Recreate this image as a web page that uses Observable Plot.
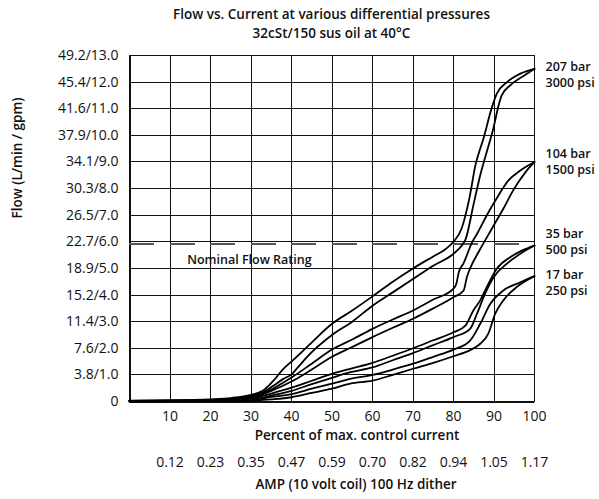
<!DOCTYPE html>
<html>
<head>
<meta charset="utf-8">
<script src="https://cdn.jsdelivr.net/npm/d3@7"></script>
<script src="https://cdn.jsdelivr.net/npm/@observablehq/plot@0.6"></script>
<style>
  body { margin: 0; background: #fff; font-family: "Open Sans", "Noto Sans", sans-serif; }
  #wrap { position: relative; width: 599px; height: 499px; }
  #title { position: absolute; left: 0; width: 663px; top: 5px; text-align: center;
           font-family: "Open Sans", "Noto Sans", sans-serif;
           font-size: 13.5px; font-weight: 600; line-height: 19px; color: #111; }
  svg { position: absolute; left: 0; top: 0; }
</style>
</head>
<body>
<div id="wrap">
  <div id="title">Flow vs. Current at various differential pressures<br>32cSt/150 sus oil at 40°C</div>
</div>
<script>
// ---- data (x = % of max control current, y = flow in gpm) ----
const xTicks = [10, 20, 30, 40, 50, 60, 70, 80, 90, 100];
const ampLabels = ["0.12","0.23","0.35","0.47","0.59","0.70","0.82","0.94","1.05","1.17"];
const yTicks = [0,1,2,3,4,5,6,7,8,9,10,11,12,13];
const yTickLabels = ["0","3.8/1.0","7.6/2.0","11.4/3.0","15.2/4.0","18.9/5.0","22.7/6.0","26.5/7.0","30.3/8.0","34.1/9.0","37.9/10.0","41.6/11.0","45.4/12.0","49.2/13.0"];

const p207a = [[0,0.03],[10,0.04],[20,0.08],[25,0.13],[30,0.25],[33,0.41],[35.6,0.79],[38,1.23],[40,1.5],[43.8,2.04],[50,2.92],[55,3.42],[60,3.95],[65,4.5],[70,5.0],[75,5.45],[78,5.72],[80,6.0],[82,6.5],[84,7.7],[85.4,8.87],[87.4,9.88],[89.5,11.06],[90.7,11.57],[93.2,12.0],[96.5,12.32],[100,12.5]];
const p207b = [[0,0.02],[10,0.03],[20,0.06],[25,0.1],[30,0.2],[33,0.35],[35.6,0.6],[38,0.85],[40,1.02],[41.5,1.27],[43.8,1.67],[50,2.5],[55,3.0],[60,3.6],[65,4.1],[70,4.6],[75,5.1],[80,5.55],[82,5.85],[83,6.1],[84.9,7.37],[86.6,8.5],[88.2,9.37],[89.9,10.3],[91.1,11.1],[91.9,11.5],[94,11.88],[97.3,12.23],[100,12.5]];
const p104a = [[0,0.02],[20,0.05],[30,0.18],[35,0.45],[40,0.9],[45,1.42],[50,1.95],[55,2.33],[60,2.73],[65,3.08],[70,3.42],[75,3.83],[80,4.24],[80.7,4.42],[81.3,4.86],[82.5,5.2],[84.5,5.95],[86,6.35],[88.2,6.99],[91.1,7.74],[93.2,8.24],[96.5,8.68],[100,9.0]];
const p104b = [[0,0.02],[20,0.04],[30,0.15],[35,0.4],[40,0.75],[45,1.2],[50,1.68],[55,2.05],[60,2.42],[65,2.77],[70,3.11],[75,3.5],[80,3.92],[82.5,4.17],[83.3,4.67],[84.1,5.0],[86.5,5.7],[89.5,6.5],[92.3,7.24],[94.8,7.95],[97.7,8.6],[100,9.0]];
const p35a = [[0,0.02],[25,0.04],[30,0.1],[35,0.3],[40,0.52],[45,0.78],[50,1.04],[54.5,1.23],[60,1.45],[65,1.72],[70,2.0],[75,2.3],[80,2.6],[83,2.86],[84.9,3.42],[86.6,3.8],[88.2,4.3],[90.7,4.99],[94,5.42],[97,5.68],[100,5.86]];
const p35b = [[0,0.01],[27,0.02],[30,0.06],[35,0.22],[40,0.4],[45,0.65],[50,0.89],[54.5,1.1],[60,1.28],[65,1.55],[70,1.82],[75,2.12],[80,2.42],[84.1,2.73],[85.8,3.3],[87.8,4.05],[89.9,4.67],[93.2,5.18],[96.5,5.55],[100,5.86]];
const p17a = [[0,0.01],[25,0.02],[30,0.06],[35,0.17],[40,0.28],[45,0.48],[50,0.67],[54.5,0.85],[60,1.0],[65,1.2],[70,1.42],[75,1.68],[80,1.95],[84.1,2.29],[86.6,2.92],[89.1,3.67],[92.3,4.17],[96.5,4.48],[100,4.71]];
const p17b = [[0,0.01],[27,0.01],[30,0.03],[35,0.08],[40,0.16],[45,0.32],[50,0.48],[54.5,0.67],[60,0.78],[65,1.0],[70,1.23],[75,1.45],[80,1.7],[84,1.92],[86.6,2.17],[88.6,2.55],[90.3,3.3],[92.3,3.8],[95.6,4.3],[100,4.71]];

const seriesNames = ["207a","207b","104a","104b","35a","35b","17a","17b"];
const seriesData = [p207a,p207b,p104a,p104b,p35a,p35b,p17a,p17b];

const barLabels = ["207 bar","104 bar","35 bar","17 bar"];
const psiLabels = ["3000 psi","1500 psi","500 psi","250 psi"];
const pressureLabelY = [12.25, 8.98, 6.0, 4.44];

const nominalFlow = 5.92;
const nominalLabel = "Nominal Flow Rating";

// ---- build tables ----
const rows = seriesData.flatMap((s, i) => s.map(([x, y]) => ({series: seriesNames[i], x, y})));
const labelRows = barLabels.map((t, i) => ({bar: t, psi: psiLabels[i], x: 100, y: pressureLabelY[i]}));
const ampRows = ampLabels.map((t, i) => ({t, x: xTicks[i]}));

const heavy = {fontWeight: 600, fill: "#111", fontFamily: "Open Sans, Noto Sans, sans-serif"};
const crisp = {shapeRendering: "crispEdges"};

const chart = Plot.plot({
  width: 599,
  height: 499,
  marginLeft: 129,
  marginRight: 65,
  marginTop: 55,
  marginBottom: 98,
  style: {fontFamily: "Open Sans, Noto Sans, sans-serif", fontSize: "14px", color: "#111", background: "transparent"},
  x: {domain: [0, 100]},
  y: {domain: [0, 13]},
  marks: [
    Plot.gridX([0,...xTicks], {stroke: "#111", strokeOpacity: 1, strokeWidth: 1, ...crisp}),
    Plot.gridY(yTicks, {stroke: "#111", strokeOpacity: 1, strokeWidth: 1, ...crisp}),
    Plot.frame({stroke: "#111", strokeWidth: 1, ...crisp}),
    Plot.ruleX([0], {stroke: "#111", strokeWidth: 2, ...crisp}),
    Plot.ruleY([0], {stroke: "#111", strokeWidth: 2, ...crisp}),
    Plot.ruleY([nominalFlow], {stroke: "#555", strokeWidth: 2, strokeDasharray: "25,15.5", ...crisp}),
    Plot.text([nominalLabel], {x: 29.6, y: 5.3, text: d => d, fontSize: 12.5, ...heavy}),
    Plot.line(rows, {x: "x", y: "y", z: "series", stroke: "#000", strokeWidth: 1.8, curve: "monotone-x"}),
    Plot.axisY(yTicks, {tickSize: 0, tickPadding: 11, tickFormat: (d) => yTickLabels[d], label: null, fontSize: 14}),
    Plot.axisX(xTicks, {tickSize: 0, tickPadding: 10, label: null, fontSize: 14}),
    Plot.text(labelRows, {x: "x", y: "y", text: "bar", dx: 11, dy: -8, textAnchor: "start", fontSize: 12.5, ...heavy}),
    Plot.text(labelRows, {x: "x", y: "y", text: "psi", dx: 11, dy: 8, textAnchor: "start", fontSize: 12.5, ...heavy}),
    Plot.text(ampRows, {x: "x", text: "t", frameAnchor: "bottom", dy: 65, fontSize: 14, fill: "#111"}),
    Plot.text(["Percent of max. control current"], {frameAnchor: "bottom", dx: 25, dy: 38, fontSize: 13.5, ...heavy}),
    Plot.text(["AMP (10 volt coil) 100 Hz dither"], {frameAnchor: "bottom", dx: 24, dy: 87, fontSize: 13.5, ...heavy}),
    Plot.text(["Flow (L/min / gpm)"], {frameAnchor: "left", dx: -112, dy: -10, rotate: -90, fontSize: 13.5, ...heavy})
  ]
});
document.getElementById("wrap").prepend(chart);
</script>
</body>
</html>
